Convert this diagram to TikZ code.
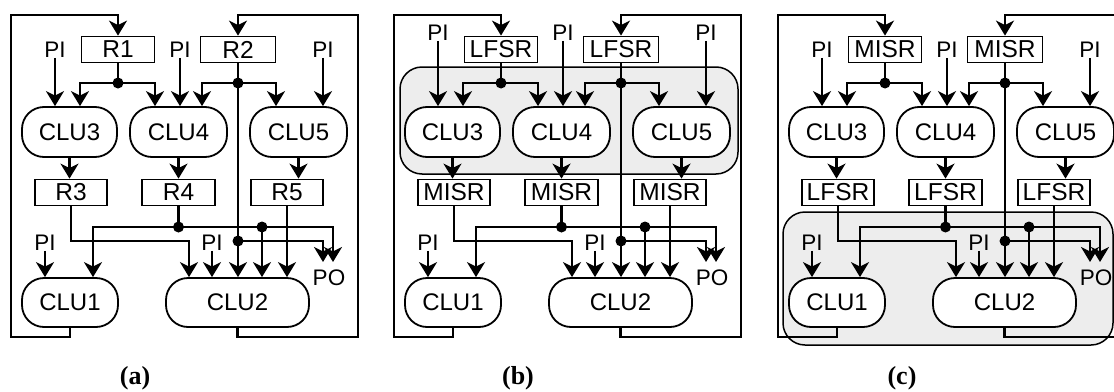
\documentclass[tikz,border=0pt]{standalone}
\usepackage{fontspec}
\setmainfont{Liberation Sans}
\newfontfamily\capfont{Liberation Serif}
\usetikzlibrary{arrows.meta,calc}
\tikzset{
 wire/.style={line width=2.6pt},
 arr/.style={wire,-{Stealth[length=15pt,width=18pt,inset=4.5pt]}},
 clu/.style={draw,line width=1.8pt,rounded corners=22pt,fill=white,minimum height=50pt,inner sep=0pt,font=\fontsize{24}{24}\selectfont},
 reg/.style={draw,line width=1.8pt,fill=white,minimum height=26pt,minimum width=72pt,inner sep=0pt,font=\fontsize{24.5}{24.5}\selectfont},
 lbl/.style={inner sep=0pt,font=\fontsize{22.5}{22.5}\selectfont},
 jdot/.style={circle,fill,inner sep=0pt,minimum size=11pt},
 zone/.style={draw=black,line width=1.5pt,fill=black!7,rounded corners=22pt},
 captxt/.style={font=\capfont\bfseries\fontsize{26}{26}\selectfont}
}
% #1 shift, #2 prefix, #3 top PI y, #4 zone code, #5 caption
\newcommand{\mypanel}[5]{%
\begin{scope}[shift={(#1,0)},name prefix=#2-]
#4
\node[reg,minimum width=73pt] (r1) at (118,49.5) {\LabA};
\node[reg,minimum width=75pt] (r2) at (238,49.5) {\LabB};
\node[reg] (r3) at (71,192.5) {\LabC};
\node[reg,minimum width=73pt] (r4) at (178.5,192.5) {\LabD};
\node[reg] (r5) at (287,192.5) {\LabE};
\node[clu,minimum width=95pt] (c3) at (69.5,132) {CLU3};
\node[clu,minimum width=97pt] (c4) at (178.5,132) {CLU4};
\node[clu,minimum width=97pt] (c5) at (298.5,132) {CLU5};
\node[clu,minimum width=96pt,minimum height=49pt] (c1) at (70,302.5) {CLU1};
\node[clu,minimum width=143pt,minimum height=49pt] (c2) at (237.5,302.5) {CLU2};
\node[lbl] (pa) at (55,#3) {PI};
\node[lbl] (pb) at (180,#3) {PI};
\node[lbl] (pc) at (323,#3) {PI};
\node[lbl] (pd) at (45,243) {PI};
\node[lbl] (pe) at (212,243) {PI};
\node[lbl] (po) at (329,278) {PO};
\node[captxt] (cp) at (135,378) {#5};
\coordinate (j1) at (118,83);
\coordinate (j2) at (238,83);
\coordinate (k2) at (238,241);
\coordinate (k4) at (178.5,227);
\coordinate (k5) at (262,227);
\coordinate (o1) at (323,262);
\coordinate (o2) at (333,262);
% top inputs
\draw[arr] (pa) -- (pa |- c3.north);
\draw[arr] (pb) -- (pb |- c4.north);
\draw[arr] (pc) -- (pc |- c5.north);
\draw[wire] (r1.south) -- (j1);
\draw[arr] (j1) -| (80,0 |- c3.north);
\draw[arr] (j1) -| (155,0 |- c4.north);
\draw[wire] (r2.south) -- (j2);
\draw[arr] (j2) -| (202,0 |- c4.north);
\draw[arr] (j2) -| (276,0 |- c5.north);
\draw[arr] (j2) -- (j2 |- c2.north);
% middle
\draw[arr] (c3.south) -- (c3.south |- r3.north);
\draw[arr] (c4.south) -- (c4.south |- r4.north);
\draw[arr] (c5.south) -- (c5.south |- r5.north);
% bottom
\draw[arr] (r3.south) |- (189,241) -- (189,0 |- c2.north);
\draw[wire] (r4.south) -- (k4);
\draw[arr] (k4) -| (93,0 |- c1.north);
\draw[arr] (k4) -| (o2);
\draw[arr] (k5) -- (k5 |- c2.north);
\draw[arr] (r5.south) -- (r5.south |- c2.north);
\draw[arr] (k2) -| (o1);
\draw[arr] (pd) -- (pd |- c1.north);
\draw[arr] (pe) -- (pe |- c2.north);
% feedback
\draw[arr] (c1.south) |- (11,337) -- (11,15) -| (r1.north);
\draw[arr] (c2.south) |- (358,337) -- (358,15) -| (r2.north);
% dots
\node[jdot] (d1) at (j1) {};
\node[jdot] (d2) at (j2) {};
\node[jdot] (d3) at (k2) {};
\node[jdot] (d4) at (k4) {};
\node[jdot] (d5) at (k5) {};
\end{scope}}
\begin{document}
\begin{tikzpicture}[x=1pt,y=-1pt]
\useasboundingbox (0,0) rectangle (1114,391);
\clip (0,0) rectangle (1114,391);
\def\LabA{R1}\def\LabB{R2}\def\LabC{R3}\def\LabD{R4}\def\LabE{R5}
\mypanel{0}{a}{50}{}{(a)}
\def\LabA{LFSR}\def\LabB{LFSR}\def\LabC{MISR}\def\LabD{MISR}\def\LabE{MISR}
\mypanel{383}{b}{33}{\draw[zone] (17,67) rectangle (355,174);}{(b)}
\def\LabA{MISR}\def\LabB{MISR}\def\LabC{LFSR}\def\LabD{LFSR}\def\LabE{LFSR}
\mypanel{767}{c}{50}{\draw[zone] (16,212) rectangle (346,345);}{(c)}
\end{tikzpicture}
\end{document}
